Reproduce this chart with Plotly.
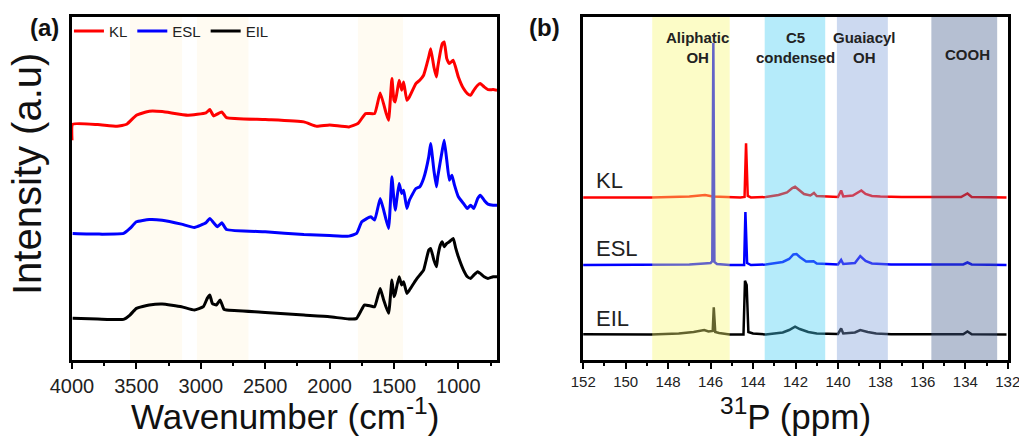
import plotly.graph_objects as go

# ---------------- Panel (a): FTIR ----------------
wn_kl = [4000, 3995, 3800, 3650, 3575, 3500, 3400, 3300, 3100, 2960, 2930, 2900, 2837, 2800, 2500, 2200, 2100,
         2000, 1850, 1780, 1720, 1650, 1607, 1560, 1542, 1516, 1500, 1490, 1460, 1440, 1425, 1400, 1380, 1330,
         1300, 1270, 1230, 1215, 1190, 1170, 1160, 1125, 1110, 1090, 1070, 1040, 1000, 960, 930, 905, 880, 850,
         830, 800, 770, 730, 700]
kl_ir = [66.0, 70.8, 70.7, 70.2, 70.8, 73.5, 74.7, 74.6, 73.5, 74.2, 75.2, 73.3, 74.5, 72.8, 72.2, 71.5, 70.2,
         70.6, 70.0, 71.0, 74.0, 74.0, 80.2, 74.0, 72.0, 84.5, 78.0, 77.5, 84.0, 81.0, 83.5, 78.0, 79.0, 83.0,
         84.0, 85.5, 91.0, 93.5, 88.0, 85.0, 88.0, 95.0, 95.5, 90.5, 89.0, 90.0, 85.0, 81.5, 80.0, 79.5, 81.0,
         82.5, 83.0, 82.0, 81.2, 81.2, 81.0]

wn_esl = [3995, 3800, 3600, 3550, 3500, 3400, 3300, 3150, 3050, 2960, 2930, 2900, 2870, 2837, 2800, 2500, 2200,
          2000, 1850, 1790, 1750, 1680, 1650, 1607, 1580, 1542, 1516, 1500, 1490, 1460, 1440, 1425, 1400, 1380,
          1330, 1300, 1270, 1230, 1215, 1190, 1170, 1160, 1125, 1110, 1090, 1070, 1050, 1030, 1000, 960, 930,
          905, 880, 850, 830, 800, 770, 730, 700]
esl_ir = [38.0, 37.8, 38.0, 39.5, 41.5, 42.2, 42.0, 40.8, 39.8, 41.2, 42.5, 41.2, 40.0, 41.2, 39.2, 38.5, 37.7,
          37.4, 37.2, 38.0, 41.5, 43.0, 42.0, 48.5, 45.0, 39.5, 55.0, 48.0, 45.0, 53.0, 50.0, 51.0, 45.5, 48.0,
          51.5, 52.0, 54.5, 61.0, 65.0, 57.0, 52.0, 55.0, 63.0, 66.0, 60.0, 54.0, 55.5, 52.5, 49.0, 47.0, 45.5,
          46.5, 45.5, 48.5, 49.5, 48.0, 46.8, 46.5, 46.5]

wn_eil = [3995, 3800, 3600, 3550, 3500, 3400, 3300, 3150, 3050, 2980, 2950, 2930, 2910, 2880, 2850, 2820, 2800,
          2500, 2200, 2000, 1850, 1790, 1760, 1730, 1680, 1650, 1607, 1580, 1542, 1516, 1500, 1490, 1460, 1440,
          1425, 1400, 1380, 1330, 1300, 1270, 1230, 1215, 1190, 1170, 1160, 1140, 1125, 1110, 1090, 1070, 1040,
          1020, 1000, 960, 930, 905, 880, 850, 830, 800, 770, 730, 700]
eil_ir = [12.5, 12.3, 12.2, 13.5, 15.5, 16.5, 16.8, 16.0, 15.0, 16.0, 18.5, 19.5, 17.0, 16.5, 18.0, 15.2, 15.0,
          14.3, 13.5, 13.0, 12.3, 12.5, 14.5, 16.5, 16.2, 16.0, 21.5, 18.0, 14.0, 24.0, 19.0, 20.0, 25.0, 22.5,
          23.5, 20.0, 21.0, 24.0, 25.5, 27.0, 33.0, 33.5, 30.0, 28.0, 31.0, 34.5, 35.5, 34.0, 35.0, 35.5, 36.5,
          33.5, 31.0, 27.0, 25.0, 24.5, 25.5, 26.5, 26.0, 25.0, 24.5, 25.0, 25.0]

ir_bands = [(3550, 3145), (3030, 2630), (1780, 1430)]
ir_ticks = [4000, 3500, 3000, 2500, 2000, 1500, 1000]

# ---------------- Panel (b): 31P NMR ----------------
ppm_kl = [152.0, 150.0, 148.8, 147.0, 146.5, 146.26, 145.9, 145.1, 144.6, 144.4, 144.33, 144.25, 144.1, 143.4,
          142.8, 142.4, 142.15, 142.02, 141.87, 141.6, 141.3, 141.13, 141.0, 140.7, 140.0, 139.85, 139.75,
          139.3, 139.0, 138.9, 138.7, 138.4, 138.0, 137.0, 134.2, 133.9, 133.7, 132.06]
kl_p = [162.5, 162.7, 162.5, 163.5, 164.5, 165.0, 163.5, 162.5, 162.5, 163.0, 216.7, 164.0, 162.5, 163.0,
        165.0, 167.5, 172.0, 173.3, 171.0, 166.0, 164.5, 167.0, 164.0, 163.5, 163.0, 169.5, 163.5,
        164.5, 168.0, 169.5, 166.0, 164.0, 163.5, 163.0, 163.0, 166.5, 163.0, 162.5]

ppm_esl = [152.0, 148.8, 147.0, 146.3, 146.0, 145.92, 145.87, 145.82, 145.7, 145.1, 144.42, 144.36, 144.28,
           144.1, 143.4, 142.6, 142.3, 142.1, 141.95, 141.8, 141.5, 141.15, 141.0, 140.0, 139.85, 139.75,
           139.2, 138.95, 138.7, 138.4, 137.5, 134.1, 133.9, 133.7, 132.06]
esl_p = [95.0, 95.0, 95.5, 96.5, 97.0, 99.0, 317.0, 98.0, 96.0, 95.0, 95.0, 148.0, 97.0,
         95.0, 95.5, 98.0, 101.0, 105.5, 106.0, 103.0, 98.5, 98.8, 96.5, 95.5, 100.0, 96.0,
         97.0, 104.0, 99.0, 96.5, 95.5, 95.5, 97.5, 95.5, 95.0]

ppm_eil = [152.0, 148.8, 147.5, 146.8, 146.3, 146.1, 145.9, 145.85, 145.78, 145.6, 145.1, 144.45, 144.38,
           144.3, 144.22, 144.0, 143.4, 142.6, 142.3, 142.02, 141.8, 141.4, 141.0, 140.0, 139.85, 139.75,
           139.2, 138.95, 138.6, 138.2, 137.5, 134.1, 133.9, 133.7, 132.06]
eil_p = [25.7, 25.5, 26.5, 28.0, 30.0, 28.5, 29.0, 52.7, 28.0, 27.0, 25.5, 25.5, 79.3,
         75.0, 28.0, 26.5, 25.5, 27.5, 30.0, 33.3, 31.0, 28.0, 26.5, 26.0, 31.5, 26.5,
         27.5, 30.0, 28.0, 26.5, 25.7, 25.7, 28.5, 25.7, 25.5]

nmr_bands = [(148.75, 145.1), (143.45, 140.6), (140.05, 137.65), (135.6, 132.5)]
nmr_band_colors = ["#F8F872", "#46CDF2", "#7F9FD9", "#46608F"]
nmr_band_labels = ["Aliphatic<br>OH", "C5<br>condensed", "Guaiacyl<br>OH", "COOH"]
nmr_label_x = [146.6, 142.0, 138.75, 133.9]
nmr_label_y = [0.97, 0.97, 0.97, 0.92]
nmr_ticks = list(range(152, 131, -2))

series_names = ["KL", "ESL", "EIL"]
series_colors = ["#FF0000", "#0000FF", "#000000"]

FONT = "Arial, Liberation Sans, sans-serif"

fig = go.Figure()
ir_x = [wn_kl, wn_esl, wn_eil]
ir_y = [kl_ir, esl_ir, eil_ir]
for name, col, xs, ys in zip(series_names, series_colors, ir_x, ir_y):
    fig.add_trace(go.Scatter(x=xs, y=ys, mode="lines", name=name,
                             line=dict(color=col, width=3, shape="spline", smoothing=0.4),
                             xaxis="x", yaxis="y"))
nmr_x = [ppm_kl, ppm_esl, ppm_eil]
nmr_y = [kl_p, esl_p, eil_p]
for name, col, xs, ys in zip(series_names, series_colors, nmr_x, nmr_y):
    fig.add_trace(go.Scatter(x=xs, y=ys, mode="lines", name=name, showlegend=False,
                             line=dict(color=col, width=2.5), xaxis="x2", yaxis="y2"))

W, H = 1019, 438
xd1 = [72 / W, 497 / W]
xd2 = [583 / W, 1008 / W]
yd = [(H - 360) / H, (H - 17) / H]

shapes = []
for a, b in ir_bands:
    shapes.append(dict(type="rect", xref="x", yref="y domain", x0=a, x1=b, y0=0, y1=1,
                       fillcolor="#FFFBF2", line=dict(width=0), layer="below"))
for (a, b), c in zip(nmr_bands, nmr_band_colors):
    shapes.append(dict(type="rect", xref="x2", yref="y2 domain", x0=a, x1=b, y0=0, y1=1,
                       fillcolor=c, line=dict(width=0), layer="above", opacity=0.4))

axis_common = dict(showline=True, linecolor="black", linewidth=2.5, mirror=True,
                   showgrid=False, zeroline=False, automargin=False)

fig.update_layout(
    template="none",
    width=W, height=H, margin=dict(l=0, r=0, t=0, b=0, pad=0, autoexpand=False),
    paper_bgcolor="white", plot_bgcolor="white",
    font=dict(family=FONT, color="#111"),
    xaxis=dict(domain=xd1, range=[4000, 700], tickvals=ir_ticks, ticks="outside", ticklen=6,
               tickwidth=2, tickcolor="black", tickfont=dict(size=20, color="#222"),
               ticklabeloverflow="allow",
               minor=dict(dtick=250, tick0=4000, ticks="outside", ticklen=3, tickwidth=2, tickcolor="black"),
               anchor="y", **axis_common),
    yaxis=dict(domain=yd, range=[0, 103], showticklabels=False, ticks="", anchor="x", **axis_common),
    xaxis2=dict(domain=xd2, range=[152.01, 131.99], tickvals=nmr_ticks, ticks="outside", ticklen=6,
                tickwidth=2, tickcolor="black", tickfont=dict(size=15, color="#222"),
                ticklabeloverflow="allow",
                minor=dict(dtick=1, tick0=132, ticks="outside", ticklen=3, tickwidth=2, tickcolor="black"),
                anchor="y2", **axis_common),
    yaxis2=dict(domain=yd, range=[0, 343], showticklabels=False, ticks="", anchor="x2", **axis_common),
    shapes=shapes,
    legend=dict(orientation="h", x=xd1[0] - 0.003, y=yd[1] + 0.005, xanchor="left", yanchor="top",
                bgcolor="rgba(0,0,0,0)", font=dict(size=15, color="#222"), itemwidth=30,
                tracegroupgap=0),
    showlegend=True,
)

ann = []
ann.append(dict(text="<b>(a)</b>", xref="paper", yref="paper", x=44 / W, y=(H - 27) / H,
                showarrow=False, font=dict(size=24, color="#111"), xanchor="center", yanchor="middle"))
ann.append(dict(text="<b>(b)</b>", xref="paper", yref="paper", x=544 / W, y=(H - 27) / H,
                showarrow=False, font=dict(size=24, color="#111"), xanchor="center", yanchor="middle"))
ann.append(dict(text="Intensity (a.u)", xref="paper", yref="paper", x=27 / W, y=(H - 174) / H,
                textangle=-90, showarrow=False, font=dict(size=40, color="#111"),
                xanchor="center", yanchor="middle"))
ann.append(dict(text="Wavenumber (cm<sup>-1</sup>)", xref="paper", yref="paper", x=284.5 / W,
                y=(H - 414) / H, showarrow=False, font=dict(size=35, color="#111"),
                xanchor="center", yanchor="middle"))
ann.append(dict(text="<sup>31</sup>P (ppm)", xref="paper", yref="paper", x=795.5 / W,
                y=(H - 414) / H, showarrow=False, font=dict(size=35, color="#111"),
                xanchor="center", yanchor="middle"))
for t, x, y in zip(nmr_band_labels, nmr_label_x, nmr_label_y):
    ann.append(dict(text="<b>" + t + "</b>", xref="x2", yref="y2 domain", x=x, y=y, showarrow=False,
                    font=dict(size=15, color="#222"), xanchor="center", yanchor="top"))
label_y = [kl_p[0] + 17, esl_p[0] + 17, eil_p[0] + 16]
for name, y in zip(series_names, label_y):
    ann.append(dict(text=name, xref="x2", yref="y2", x=151.5, y=y, showarrow=False,
                    font=dict(size=22, color="#222"), xanchor="left", yanchor="middle"))
fig.update_layout(annotations=ann)

fig.write_html("out.html", config={"displayModeBar": False},
               post_script="document.body.style.margin='0';document.body.style.overflow='hidden';")
